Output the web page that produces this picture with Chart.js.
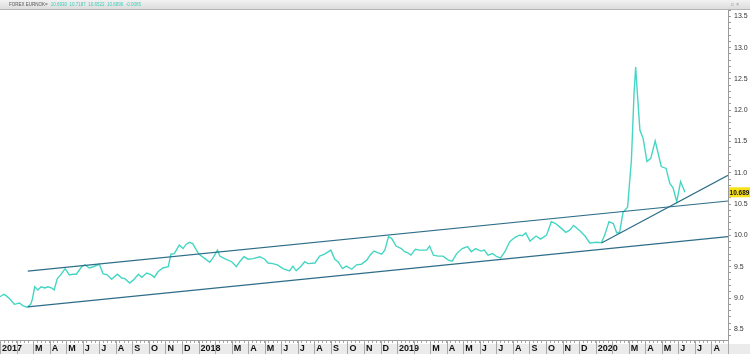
<!DOCTYPE html>
<html>
<head>
<meta charset="utf-8">
<script src="https://cdn.jsdelivr.net/npm/chart.js@4.4.1/dist/chart.umd.min.js"></script>
<style>
  html, body { margin: 0; padding: 0; background: #fff; }
  #wrap { width: 750px; height: 354px; position: relative; }
</style>
</head>
<body>
<div id="wrap"><canvas id="myChart" width="750" height="354"></canvas></div>
<script>
// EUR/NOK close
const dates = [
  '2017-01-01','2017-01-08','2017-01-13','2017-01-19','2017-01-28','2017-02-06','2017-02-12','2017-02-19','2017-02-25','2017-02-28',
  '2017-03-04','2017-03-10','2017-03-16','2017-03-23','2017-03-29','2017-04-05','2017-04-09','2017-04-15','2017-04-21','2017-04-29',
  '2017-05-07','2017-05-13','2017-05-20','2017-05-30','2017-06-05','2017-06-13','2017-06-20','2017-07-01','2017-07-08','2017-07-16',
  '2017-07-24','2017-08-04','2017-08-12','2017-08-18','2017-08-27','2017-09-03','2017-09-12','2017-09-18','2017-09-27','2017-10-06',
  '2017-10-11','2017-10-18','2017-10-27','2017-11-06','2017-11-11','2017-11-17','2017-11-26','2017-12-03','2017-12-09','2017-12-15',
  '2017-12-21','2017-12-28','2018-01-02','2018-01-13','2018-01-22','2018-01-28','2018-02-05','2018-02-09','2018-02-17','2018-03-01',
  '2018-03-10','2018-03-16','2018-03-24','2018-04-01','2018-04-10','2018-04-22','2018-05-01','2018-05-07','2018-05-16','2018-05-25',
  '2018-06-04','2018-06-16','2018-06-22','2018-06-28','2018-07-06','2018-07-14','2018-07-20','2018-08-02','2018-08-11','2018-08-20',
  '2018-09-01','2018-09-08','2018-09-14','2018-09-22','2018-09-29','2018-10-09','2018-10-18','2018-10-27','2018-11-06','2018-11-12',
  '2018-11-19','2018-11-27','2018-12-03','2018-12-09','2018-12-16','2018-12-22','2018-12-30','2019-01-09','2019-01-15','2019-01-21',
  '2019-01-27','2019-02-04','2019-02-11','2019-02-23','2019-02-28','2019-03-07','2019-03-16','2019-03-25','2019-04-04','2019-04-11',
  '2019-04-19','2019-04-29','2019-05-09','2019-05-16','2019-05-24','2019-06-03','2019-06-09','2019-06-16','2019-06-24','2019-07-02',
  '2019-07-09','2019-07-17','2019-07-26','2019-08-05','2019-08-13','2019-08-19','2019-08-25','2019-09-02','2019-09-13','2019-09-21',
  '2019-10-02','2019-10-11','2019-10-19','2019-10-26','2019-11-07','2019-11-14','2019-11-21','2019-12-03','2019-12-12','2019-12-21',
  '2020-01-03','2020-01-12','2020-01-18','2020-01-26','2020-02-03','2020-02-09','2020-02-14','2020-02-20','2020-02-28','2020-03-06',
  '2020-03-11','2020-03-14','2020-03-17','2020-03-22','2020-03-28','2020-04-04','2020-04-11','2020-04-19','2020-04-23','2020-04-30',
  '2020-05-09','2020-05-16','2020-05-22','2020-05-29','2020-06-05','2020-06-13'
];
const closes = [
  9.02, 9.06, 9.035, 8.99, 8.90, 8.92, 8.875, 8.855, 8.90, 8.99,
  9.18, 9.13, 9.18, 9.16, 9.18, 9.16, 9.13, 9.31, 9.37, 9.47,
  9.37, 9.38, 9.38, 9.50, 9.53, 9.48, 9.50, 9.54, 9.39, 9.37,
  9.30, 9.38, 9.32, 9.31, 9.24, 9.29, 9.38, 9.33, 9.40, 9.37,
  9.33, 9.42, 9.48, 9.50, 9.70, 9.71, 9.845, 9.79, 9.86, 9.89,
  9.87, 9.765, 9.70, 9.63, 9.57, 9.64, 9.765, 9.67, 9.63, 9.58,
  9.50, 9.58, 9.66, 9.62, 9.63, 9.66, 9.62, 9.56, 9.55, 9.53,
  9.47, 9.435, 9.51, 9.435, 9.50, 9.58, 9.55, 9.56, 9.67, 9.70,
  9.765, 9.62, 9.58, 9.47, 9.51, 9.46, 9.53, 9.54, 9.605, 9.685,
  9.75, 9.72, 9.70, 9.765, 9.98, 9.95, 9.83, 9.79, 9.74, 9.72,
  9.685, 9.78, 9.765, 9.765, 9.83, 9.685, 9.67, 9.67, 9.605, 9.59,
  9.71, 9.79, 9.82, 9.74, 9.79, 9.75, 9.765, 9.685, 9.71, 9.66,
  9.64, 9.74, 9.90, 9.97, 10.005, 9.995, 10.04, 9.91, 9.99, 9.94,
  10.005, 10.22, 10.19, 10.14, 10.05, 10.085, 10.16, 10.07, 9.99, 9.88,
  9.89, 9.885, 10.005, 10.22, 10.19, 10.04, 10.05, 10.37, 10.45, 11.20,
  12.27, 12.69, 12.29, 11.68, 11.55, 11.18, 11.23, 11.51, 11.36, 11.10,
  11.07, 10.83, 10.76, 10.54, 10.86, 10.689
];

// trend lines (start, end)
const channelDates = ['2017-02-20', '2020-09-01'];
const lowerValues = [8.86, 9.98];
const upperValues = [9.43, 10.55];
const supportDates = ['2020-01-12', '2020-09-01'];
const supportValues = [9.88, 10.96];

// February has no label on this chart (year label sits in its place)
const monthLetters = ['', '', 'M', 'A', 'M', 'J', 'J', 'A', 'S', 'O', 'N', 'D'];

function monthIndex(s) {
  const [y, m, d] = s.split('-').map(Number);
  const dim = new Date(y, m, 0).getDate();
  return (y - 2017) * 12 + (m - 1) + (d - 1) / dim;
}
function pts(ds, vs) {
  return ds.map((d, i) => ({ x: monthIndex(d), y: vs[i] }));
}

const TEAL = '#45d6c3';
const TREND = '#2d6d88';

const chrome = {
  id: 'chrome',
  beforeDraw(chart) {
    const c = chart.ctx;
    c.save();
    // header strip
    const g = c.createLinearGradient(0, 0, 0, 9);
    g.addColorStop(0, '#f2f2f2');
    g.addColorStop(1, '#dcdcdc');
    c.fillStyle = g;
    c.fillRect(0, 0, 750, 9);
    c.fillStyle = '#b5b5b5';
    c.fillRect(0, 9, 750, 1);
    c.font = '4.5px "Liberation Sans", Arial, sans-serif';
    c.textBaseline = 'middle';
    c.fillStyle = '#555';
    const title = 'FOREX EURNOK=';
    c.fillText(title, 9, 4.8);
    const w = c.measureText(title).width;
    c.fillStyle = '#3fcbb8';
    c.fillText('10.6930  10.7187  10.6522  10.6890  -0.0065', 9 + w + 3, 4.8);
    c.fillStyle = '#888';
    c.fillText('\u25A1  \u00D7', 731, 4.8);
    // bottom label band
    c.fillStyle = '#ebebeb';
    c.fillRect(0, 344, 750, 10);
    c.restore();
  },
  afterDraw(chart) {
    const c = chart.ctx;
    const xs = chart.scales.x, ys = chart.scales.y;
    const a = chart.chartArea;
    c.save();
    // month separators
    c.strokeStyle = '#a8a8a8';
    c.lineWidth = 1;
    for (let m = 0; m <= 44; m++) {
      const px = Math.round(xs.getPixelForValue(m)) + 0.5;
      c.beginPath();
      c.moveTo(px, a.bottom);
      c.lineTo(px, 354);
      c.stroke();
    }
    // last price tag
    const last = closes[closes.length - 1];
    const py = ys.getPixelForValue(last);
    c.fillStyle = '#f6df1c';
    c.fillRect(a.right + 1, py - 5, 21, 10);
    c.fillStyle = '#111';
    c.font = 'bold 6.5px "Liberation Sans", Arial, sans-serif';
    c.textAlign = 'center';
    c.textBaseline = 'middle';
    c.fillText(last.toFixed(3), a.right + 11.5, py + 0.5);
    c.restore();
  }
};

const config = {
  type: 'line',
  data: {
    datasets: [
      { data: pts(dates, closes), borderColor: TEAL, borderWidth: 1.4, pointRadius: 0, tension: 0, order: 1 },
      { data: pts(channelDates, upperValues), borderColor: TREND, borderWidth: 1.2, pointRadius: 0, order: 0 },
      { data: pts(channelDates, lowerValues), borderColor: TREND, borderWidth: 1.2, pointRadius: 0, order: 0 },
      { data: pts(supportDates, supportValues), borderColor: TREND, borderWidth: 1.2, pointRadius: 0, order: 0 }
    ]
  },
  options: {
    responsive: false,
    animation: false,
    events: [],
    layout: { padding: { top: 10, left: 0, right: 0, bottom: 0 } },
    plugins: { legend: { display: false }, tooltip: { enabled: false } },
    scales: {
      x: {
        type: 'linear',
        min: 0,
        max: 44,
        afterFit(s) { s.height = 14; },
        border: { color: '#9a9a9a' },
        grid: { drawOnChartArea: false, tickLength: 3, tickColor: '#a8a8a8' },
        ticks: {
          stepSize: 0.25,
          maxTicksLimit: 1000,
          autoSkip: false,
          includeBounds: false,
          maxRotation: 0,
          minRotation: 0,
          align: 'start',
          labelOffset: 2,
          padding: 0,
          color: '#111',
          font: { family: '"Liberation Sans", Arial, sans-serif', size: 9, weight: 'bold' },
          callback(v) {
            const m = Math.round(v);
            if (Math.abs(v - m) > 1e-6 || m >= 44) return '';
            return m % 12 === 0 ? String(2017 + m / 12) : monthLetters[m % 12];
          }
        }
      },
      y: {
        position: 'right',
        min: 8.33,
        max: 13.6,
        afterFit(s) { s.width = 22; },
        border: { color: '#9a9a9a' },
        grid: { drawOnChartArea: false, tickLength: 3, tickColor: '#9a9a9a' },
        ticks: {
          stepSize: 0.1,
          maxTicksLimit: 1000,
          autoSkip: false,
          includeBounds: false,
          padding: 3,
          color: '#333',
          font: { family: '"Liberation Sans", Arial, sans-serif', size: 7 },
          callback(v) {
            const h = v * 2;
            return Math.abs(h - Math.round(h)) < 1e-6 ? v.toFixed(1) : '';
          }
        }
      }
    }
  },
  plugins: [chrome]
};

const ctx = document.getElementById('myChart').getContext('2d');
new Chart(ctx, config);
</script>
</body>
</html>
